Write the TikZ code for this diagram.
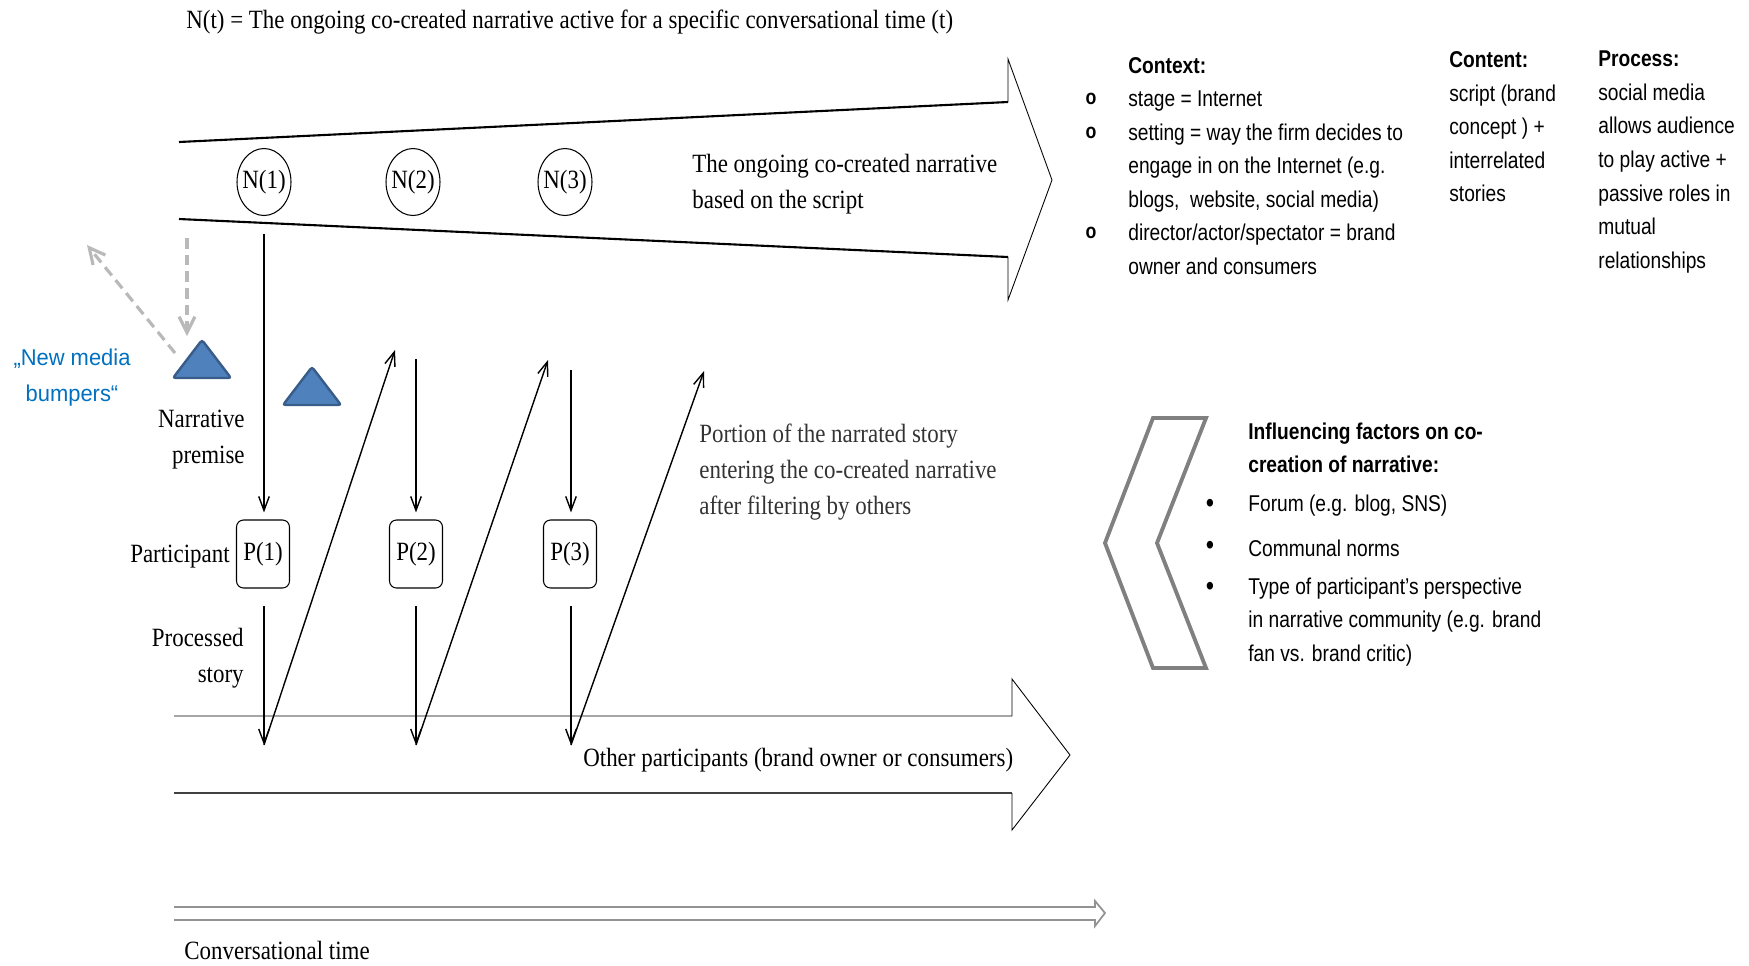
\documentclass[tikz,border=0pt]{standalone}
\usepackage{fontspec}
\setmainfont{Liberation Serif}
\newfontfamily\labelfont[FakeStretch=0.87]{Liberation Serif}
\newfontfamily\notefont[FakeStretch=0.84]{Liberation Sans}
\newfontfamily\bumperfont[FakeStretch=0.96]{Liberation Sans}
\usepackage{tikz}
\usetikzlibrary{positioning, shapes.geometric, arrows.meta}

\definecolor{bumpfill}{RGB}{79,129,189}
\definecolor{bumpline}{RGB}{56,93,138}
\definecolor{bumptext}{RGB}{0,112,192}

\newcommand{\serifsize}{\labelfont\fontsize{15}{20.5}\selectfont}
\newcommand{\notesize}{\notefont\fontsize{13}{19.1}\selectfont}
\newcommand{\bumpsize}{\bumperfont\fontsize{13}{20.5}\selectfont}

\begin{document}
\begin{tikzpicture}[
    x=0.02cm, y=-0.02cm,
    narrnode/.style={draw, ellipse, line width=0.6pt, minimum width=1.08cm, minimum height=1.34cm, inner xsep=-4pt, inner ysep=0pt, font=\serifsize},
    partbox/.style={draw, rounded corners=4pt, line width=0.6pt, minimum width=1.06cm, minimum height=1.36cm, inner sep=0pt, font=\serifsize},
    lbl/.style={inner sep=0pt, font=\serifsize},
    note/.style={inner sep=0pt, align=left, font=\notesize},
    flow/.style={line width=0.8pt, -{Straight Barb[length=8pt,width=6pt]}},
    bumpdash/.style={draw=gray!55, line width=1.8pt, dash pattern=on 6pt off 3.5pt, -{Straight Barb[length=9pt,width=9pt]}},
    bumper/.style={fill=bumpfill, draw=bumpline, line width=1.4pt, rounded corners=1.5pt}
]
\useasboundingbox (0,0) rectangle (1749,965);

% Title
\node[lbl, anchor=west] (title) at (186,22) {N(t) = The ongoing co-created narrative active for a specific conversational time (t)};

% Co-created narrative arrow
\draw[line width=1.2pt] (179,142) -- (1008,102);
\draw[line width=1.2pt] (179,219) -- (1008,257);
\draw[line width=0.5pt] (1008,102) -- (1008,59) -- (1052,180) -- (1008,300) -- (1008,257);
\foreach \i/\x in {1/264, 2/413, 3/565}
    \node[narrnode] (n\i) at (\x,182) {N(\i)};
\node[lbl, align=left, anchor=west] (narrtext) at (692,184) {The ongoing co-created narrative\\based on the script};

% Other participants arrow
\draw[line width=1.6pt, gray!70] (174,716) -- (1012,716);
\draw[line width=1.6pt, black!75] (174,793) -- (1012,793);
\draw[line width=0.5pt] (1012,716) -- (1012,679) -- (1070,755) -- (1012,830) -- (1012,793);
\node[lbl, anchor=west] (others) at (583,760) {Other participants (brand owner or consumers)};

% Conversational time
\draw[line width=1pt, gray!85] (174,907) -- (1095,907) -- (1095,901) -- (1105,913) -- (1095,926) -- (1095,920) -- (174,920);
\node[lbl, anchor=west] (convtime) at (184,950) {Conversational time};

% New media bumpers
\draw[bumper] (202,340) -- (231,378) -- (173,378) -- cycle;
\draw[bumper] (312,367) -- (341,405) -- (283,405) -- cycle;
\node[align=center, font=\bumpsize, text=bumptext, inner sep=0pt] (bumpers) at (72,378) {„New media\\bumpers“};
\coordinate (dashsrc) at (187,238);
\coordinate (dashdst) at (187,336);
\coordinate (bumpfoot) at (175,353);
\coordinate (bumpout) at (87,245);
\draw[bumpdash] (dashsrc) -- (dashdst);
\draw[bumpdash] (bumpfoot) -- (bumpout);

% Participants
\foreach \i/\x in {1/263, 2/416, 3/570}
    \node[partbox] (p\i) at (\x,554) {P(\i)};
\node[lbl, align=right, anchor=east] (premise) at (245,440) {Narrative\\premise};
\node[lbl, left=0.12cm of p1, yshift=-0.06cm] (partlbl) {Participant};
\node[lbl, align=right, anchor=east] (processed) at (244,658) {Processed\\story};

% Story flow
\coordinate (s1) at (264,234);
\coordinate (s2) at (416,359);
\coordinate (s3) at (571,370);
\coordinate (b1) at (264,745);
\coordinate (b2) at (416,745);
\coordinate (b3) at (571,745);
\coordinate (t1) at (395,350);
\coordinate (t2) at (548,360);
\coordinate (t3) at (704,371);
\draw[line width=1.6pt] (s1) -- ++(0,124);
\foreach \i in {1,2,3} {
    \draw[flow, shorten >=4pt] (s\i) -- (s\i |- p\i.north);
    \draw[flow, shorten <=10pt] (b\i |- p\i.south) -- (b\i);
    \draw[flow] (b\i) -- (t\i);
}
\node[lbl, align=left, anchor=west, text=black!80] (portion) at (699,472) {Portion of the narrated story\\entering the co-created narrative\\after filtering by others};

% Context, content, process
\node[note, anchor=west] (context) at (1128,166) {\textbf{Context:}\\stage = Internet\\setting = way the firm decides to\\engage in on the Internet (e.g.\\blogs,\ \ website, social media)\\director/actor/spectator = brand\\owner and consumers};
\foreach \y/\n in {99/1, 133/2, 233/3}
    \node[note, font=\notefont\fontsize{12}{12}\bfseries] (ctxb\n) at (1091,\y) {o};
\node[note, anchor=west] (content) at (1449,127) {\textbf{Content:}\\script (brand\\concept ) +\\interrelated\\stories};
\node[note, anchor=west] (process) at (1598,162) {\textbf{Process:}\\social media\\allows audience\\to play active +\\passive roles in\\mutual\\relationships};

% Influencing factors
\draw[gray, line width=2.2pt] (1153,418) -- (1206,418) -- (1157,543) -- (1206,668) -- (1153,668) -- (1105,543) -- cycle;
\node[note, anchor=west] (infl) at (1248,448) {\textbf{Influencing factors on co-}\\\textbf{creation of narrative:}};
\node[note, anchor=west] (f1) at (1248,506) {Forum (e.g. blog, SNS)};
\node[note, anchor=west] (f2) at (1248,548) {Communal norms};
\node[note, anchor=west] (f3) at (1248,622) {Type of participant’s perspective\\in narrative community (e.g. brand\\fan vs. brand critic)};
\foreach \y/\n in {506/1, 548/2, 589/3}
    \node[note, font=\notefont\fontsize{16}{16}\selectfont] (infb\n) at (1210,\y) {•};

\end{tikzpicture}
\end{document}
